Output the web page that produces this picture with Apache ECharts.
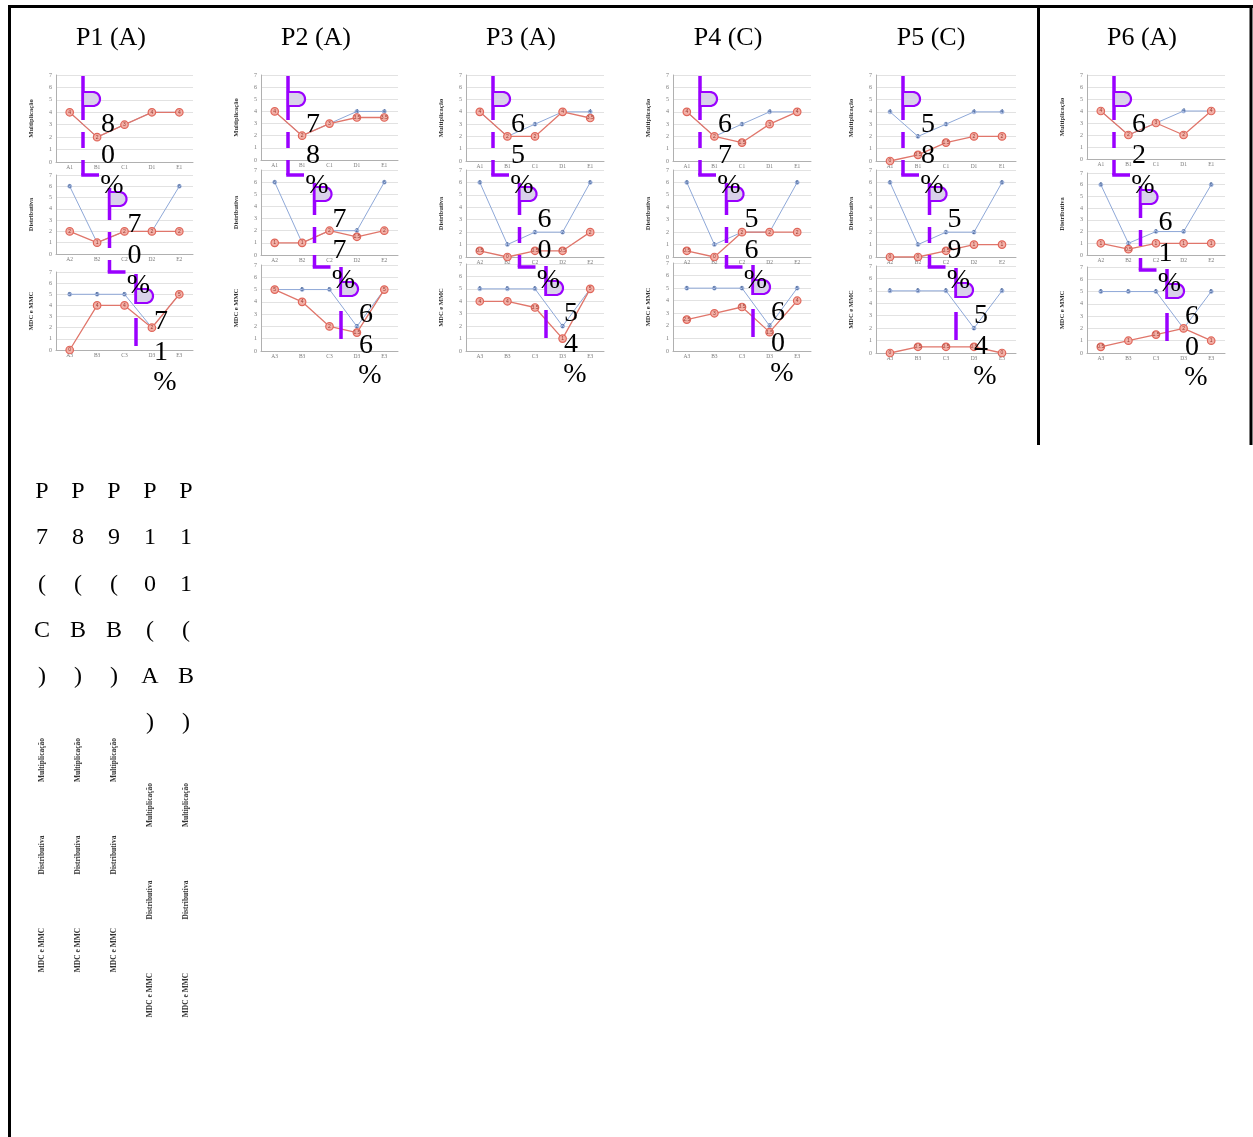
<!DOCTYPE html>
<html><head><meta charset="utf-8">
<script src="https://cdn.jsdelivr.net/npm/echarts@6.0.0/dist/echarts.min.js"></script>
<style>html,body{margin:0;padding:0;background:#fff}#c{width:1253px;height:1137px}</style>
</head><body><div id="c"></div><script>
// ---------- data ----------
const panelTitles = ["P1 (A)", "P2 (A)", "P3 (A)", "P4 (C)", "P5 (C)", "P6 (A)"];
const extraTitles = ["P7 (C)", "P8 (B)", "P9 (B)", "P10 (A)", "P11 (B)"];
const topicNames = ["Multiplicação", "Distributiva", "MDC e MMC"];
const categories1 = ["A1", "B1", "C1", "D1", "E1"];
const categories2 = ["A2", "B2", "C2", "D2", "E2"];
const categories3 = ["A3", "B3", "C3", "D3", "E3"];
const yTicks = [0, 1, 2, 3, 4, 5, 6, 7];
// reference (blue) profile per topic
const refMult = [4, 2, 3, 4, 4];
const refDist = [6, 1, 2, 2, 6];
const refMdc = [5, 5, 5, 2, 5];
// observed (red) per panel: [Multiplicação, Distributiva, MDC e MMC]
const p1Obs = [[4, 2, 3, 4, 4], [2, 1, 2, 2, 2], [0, 4, 4, 2, 5]];
const p2Obs = [[4, 2, 3, 3.5, 3.5], [1, 1, 2, 1.5, 2], [5, 4, 2, 1.5, 5]];
const p3Obs = [[4, 2, 2, 4, 3.5], [0.5, 0, 0.5, 0.5, 2], [4, 4, 3.5, 1, 5]];
const p4Obs = [[4, 2, 1.5, 3, 4], [0.5, 0, 2, 2, 2], [2.5, 3, 3.5, 1.5, 4]];
const p5Obs = [[0, 0.5, 1.5, 2, 2], [0, 0, 0.5, 1, 1], [0, 0.5, 0.5, 0.5, 0]];
const p6Obs = [[4, 2, 3, 2, 4], [1, 0.5, 1, 1, 1], [0.5, 1, 1.5, 2, 1]];
// percentages per panel and topic
const p1Pct = ["80", "70", "71"];
const p2Pct = ["78", "77", "66"];
const p3Pct = ["65", "60", "54"];
const p4Pct = ["67", "56", "60"];
const p5Pct = ["58", "59", "54"];
const p6Pct = ["62", "61", "60"];

// ---------- build ----------
const observed = [p1Obs, p2Obs, p3Obs, p4Obs, p5Obs, p6Obs];
const percents = [p1Pct, p2Pct, p3Pct, p4Pct, p5Pct, p6Pct];
const refs = [refMult, refDist, refMdc];
const cats = [categories1, categories2, categories3];

const gridLeft = [56, 261, 466, 673, 876, 1087];
const gridWidth = [137, 137, 138, 138, 140, 138];
const rowTops = [[75, 175, 272], [75, 170, 265], [75, 170, 264], [75, 170, 263], [75, 170, 266], [75, 173, 267]];
const rowHeights = [[87, 79, 78], [85, 85, 86], [86, 87, 87], [86, 87, 88], [86, 87, 87], [84, 82, 86]];

const SERIF = '"Liberation Serif", "DejaVu Serif", serif';
const PURPLE = '#9a00ff';
const grids = [], xAxes = [], yAxes = [], series = [], graphics = [];

function bumpPoints(x0, bt) {
  const pts = [[x0, bt], [x0 + 10, bt]];
  for (let a = -80; a <= 80; a += 10) {
    const rad = a * Math.PI / 180;
    pts.push([x0 + 10 + 7 * Math.cos(rad), bt + 7 + 7 * Math.sin(rad)]);
  }
  pts.push([x0 + 10, bt + 14], [x0, bt + 14]);
  return pts;
}

for (let p = 0; p < 6; p++) {
  for (let r = 0; r < 3; r++) {
    const idx = grids.length;
    grids.push({ left: gridLeft[p], top: rowTops[p][r], width: gridWidth[p], height: rowHeights[p][r], containLabel: false });
    xAxes.push({
      type: 'category', gridIndex: idx, data: cats[r], boundaryGap: true,
      axisLine: { lineStyle: { color: '#b0b0b0', width: 1 } },
      axisTick: { show: false },
      axisLabel: { fontSize: 5.5, color: '#7a7a7a', margin: 3, fontFamily: SERIF }
    });
    yAxes.push({
      type: 'value', gridIndex: idx, min: 0, max: 7, interval: 1,
      name: topicNames[r], nameLocation: 'middle', nameGap: 21, nameRotate: 90,
      nameTextStyle: { fontSize: 6.5, fontWeight: 'bold', color: '#333', fontFamily: SERIF },
      axisLine: { show: true, lineStyle: { color: '#b0b0b0', width: 1 } },
      axisTick: { show: false },
      axisLabel: { fontSize: 6, color: '#7a7a7a', margin: 4, fontFamily: SERIF,
        formatter: v => (yTicks.indexOf(v) >= 0 ? String(v) : '') },
      splitLine: { lineStyle: { color: '#e2e2e2', width: 1 } }
    });
    series.push({
      type: 'line', xAxisIndex: idx, yAxisIndex: idx, data: refs[r], z: 2,
      symbol: 'circle', symbolSize: 4,
      lineStyle: { color: '#8ea8d8', width: 1 },
      itemStyle: { color: '#aabde4', borderColor: '#7b95c8', borderWidth: 0.5 },
      label: { show: true, position: 'inside', fontSize: 5, color: '#3d5a8c' },
      animation: false
    });
    series.push({
      type: 'line', xAxisIndex: idx, yAxisIndex: idx, data: observed[p][r], z: 3,
      symbol: 'circle', symbolSize: 7.5,
      lineStyle: { color: '#e0766b', width: 1.3 },
      itemStyle: { color: '#f2b0a7', borderColor: '#e0665a', borderWidth: 1.2 },
      label: { show: true, position: 'inside', fontSize: 5, color: '#9c3a30' },
      animation: false
    });
  }
  // title
  graphics.push({ type: 'text', x: gridLeft[p] + 55, y: 38,
    style: { text: panelTitles[p], font: '26px ' + SERIF, fill: '#000', textAlign: 'center', textVerticalAlign: 'middle' } });
  // purple markers + vertical percentage digits
  const segDefs = [
    [[-16, 28], [40, 56], [68, 83]],
    [[-4, 28], [40, 56], [68, 80]],
    [[-15, 15], [29, 57]]
  ];
  const hasL = [true, true, false];
  for (let r = 0; r < 3; r++) {
    const x0 = gridLeft[p] + 27 + r * 26.5;
    const bt = rowTops[p][r] + 17;
    segDefs[r].forEach(s => graphics.push({ type: 'line', shape: { x1: x0, y1: bt + s[0], x2: x0, y2: bt + s[1] },
      style: { stroke: PURPLE, lineWidth: 3.5 }, z: 10 }));
    if (hasL[r]) {
      const yl = bt + segDefs[r][2][1];
      graphics.push({ type: 'line', shape: { x1: x0 - 1.75, y1: yl, x2: x0 + 16, y2: yl }, style: { stroke: PURPLE, lineWidth: 3.5 }, z: 10 });
    }
    graphics.push({ type: 'polygon', shape: { points: bumpPoints(x0, bt) },
      style: { fill: '#d9d2ea', stroke: PURPLE, lineWidth: 2.2 }, z: 10 });
    const chars = (percents[p][r] + '%').split('');
    const dy = [33, 64, 94];
    chars.forEach((ch, k) => graphics.push({ type: 'text', x: x0 + (ch === '%' ? 29 : 25), y: bt + dy[k], z: 11,
      style: { text: ch, font: '28px ' + SERIF, fill: '#000', textAlign: 'center', textVerticalAlign: 'middle' } }));
  }
}

// overflow titles rendered one character per line
const colX = [42, 78, 114, 150, 186];
extraTitles.forEach((t, i) => {
  t.replace(/\s/g, '').split('').forEach((ch, k) => graphics.push({ type: 'text', x: colX[i], y: 492 + k * 46.2,
    style: { text: ch, font: '24px ' + SERIF, fill: '#000', textAlign: 'center', textVerticalAlign: 'middle' } }));
  const base = t.replace(/\s/g, '').length > 5 ? 805 : 760;
  topicNames.forEach((n, k) => graphics.push({ type: 'text', x: colX[i], y: base + k * 95, rotation: Math.PI / 2,
    style: { text: n, font: 'bold 7.5px ' + SERIF, fill: '#333', textAlign: 'center', textVerticalAlign: 'middle' } }));
});

// frame lines
const frame = [[8, 6.5, 1253, 6.5], [9.5, 5, 9.5, 1137], [1251, 5, 1251, 445], [1038.5, 5, 1038.5, 445]];
frame.forEach(f => graphics.push({ type: 'line', shape: { x1: f[0], y1: f[1], x2: f[2], y2: f[3] }, style: { stroke: '#000', lineWidth: 3 }, z: 20 }));

const chart = echarts.init(document.getElementById('c'), null, { renderer: 'canvas' });
chart.setOption({
  animation: false, backgroundColor: '#fff',
  grid: grids, xAxis: xAxes, yAxis: yAxes, series: series, graphic: graphics
});
</script></body></html>
